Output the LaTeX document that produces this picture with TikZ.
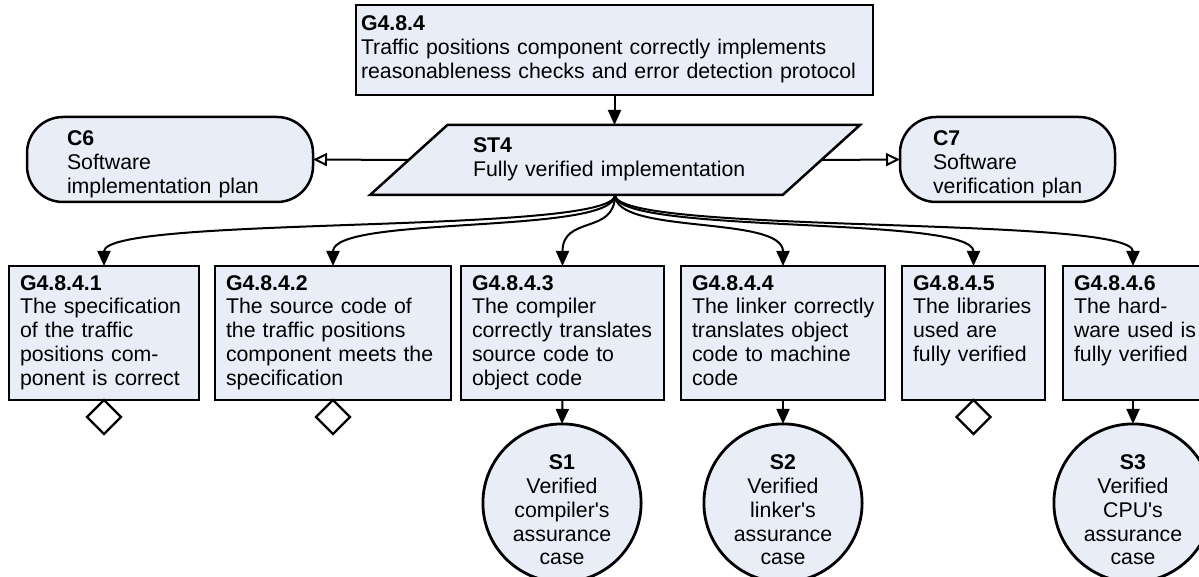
\documentclass[tikz,border=0pt]{standalone}
\usepackage{fontspec}
\setmainfont{Liberation Sans}
\usetikzlibrary{arrows.meta,shapes.geometric}
\definecolor{gsnfill}{RGB}{233,237,247}
% left-aligned block of lines that never re-wraps
\newcommand{\gsnlines}[1]{\begin{tabular}[t]{@{}l@{}}#1\end{tabular}}
\begin{document}
\begin{tikzpicture}[x=1pt,y=-1pt,
  every node/.style={font=\fontsize{21.3}{23.75}\selectfont, outer sep=0pt},
  goalbox/.style={draw, line width=2.8pt, fill=gsnfill, rectangle, inner xsep=11pt, inner ysep=0pt,
    minimum height=134pt, align=left, anchor=north west},
  ctxbox/.style={draw, line width=2.5pt, fill=gsnfill, rectangle, rounded corners=36pt, inner ysep=0pt,
    minimum height=85pt, align=left, anchor=north west},
  stratbox/.style={draw, line width=2.5pt, fill=gsnfill, trapezium, trapezium left angle=35,
    trapezium right angle=145, trapezium stretches body=true, minimum width=490pt,
    minimum height=70pt, text width=284pt, align=left},
  solbox/.style={draw, line width=2.8pt, fill=gsnfill, circle, minimum size=146pt, inner sep=0pt, align=center},
  undev/.style={draw, line width=2.4pt, fill=white, diamond, minimum width=34pt, minimum height=34pt,
    inner sep=0pt, anchor=north},
  conn/.style={line width=2pt, -{Triangle[length=15pt,width=13pt]}},
  ctxconn/.style={line width=2pt, -{Triangle[open,length=14pt,width=13pt]}},
]
\useasboundingbox (0,0) rectangle (1199,577);

% top goal and strategy
\node[goalbox, inner xsep=5pt, text width=507pt, minimum height=90pt] (g484) at (356,5)
  {\gsnlines{\textbf{G4.8.4}\\Traffic positions component correctly implements\\reasonableness checks and error detection protocol}};
\node[stratbox] (st4) at (615,160) {\gsnlines{\textbf{ST4}\\Fully verified implementation}};

% contexts
\node[ctxbox, inner xsep=40pt, text width=206pt] (c6) at (27,117)
  {\gsnlines{\rule{0pt}{27pt}\textbf{C6}\\Software\\implementation plan}};
\node[ctxbox, inner xsep=33pt, text width=149pt] (c7) at (900,117)
  {\gsnlines{\rule{0pt}{27pt}\textbf{C7}\\Software\\verification plan}};

% sub-goals
\node[goalbox, text width=168pt] (g1) at (9,266)
  {\gsnlines{\textbf{G4.8.4.1}\\The specification\\of the traffic\\positions com-\\ponent is correct}};
\node[goalbox, text width=214pt] (g2) at (215,266)
  {\gsnlines{\textbf{G4.8.4.2}\\The source code of\\the traffic positions\\component meets the\\specification}};
\node[goalbox, text width=181pt] (g3) at (461,266)
  {\gsnlines{\textbf{G4.8.4.3}\\The compiler\\correctly translates\\source code to\\object code}};
\node[goalbox, text width=182pt] (g4) at (681,266)
  {\gsnlines{\textbf{G4.8.4.4}\\The linker correctly\\translates object\\code to machine\\code}};
\node[goalbox, text width=121pt] (g5) at (902,266)
  {\gsnlines{\textbf{G4.8.4.5}\\The libraries\\used are\\fully verified\\\strut}};
\node[goalbox, text width=118pt] (g6) at (1063,266)
  {\gsnlines{\textbf{G4.8.4.6}\\The hard-\\ware used is\\fully verified\\\strut}};

% undeveloped markers
\node[undev] (u1) at (g1.south) {};
\node[undev] (u2) at (g2.south) {};
\node[undev] (u5) at (g5.south) {};

% solutions
\node[solbox] (s1) at (562,503)
  {\rule{0pt}{29pt}\textbf{S1}\\Verified\\compiler\textquotesingle s\\assurance\\case};
\node[solbox] (s2) at (783,503)
  {\rule{0pt}{29pt}\textbf{S2}\\Verified\\linker\textquotesingle s\\assurance\\case};
\node[solbox] (s3) at (1133,503)
  {\rule{0pt}{29pt}\textbf{S3}\\Verified\\CPU\textquotesingle s\\assurance\\case};

% connectors
\draw[conn] (g484.south) -- (g484.south |- st4.north);
\draw[ctxconn] (st4.left side) -- (c6.east);
\draw[ctxconn] (st4.right side) -- (c7.west);
\foreach \g in {g1,g2,g3,g4,g5,g6}
  \draw[conn] (st4.center |- st4.south) .. controls +(0,40) and +(0,-51) .. (\g.north);
\draw[conn] (g3.south) -- (s1.north);
\draw[conn] (g4.south) -- (s2.north);
\draw[conn] (g6.south) -- (s3.north);
\end{tikzpicture}
\end{document}
